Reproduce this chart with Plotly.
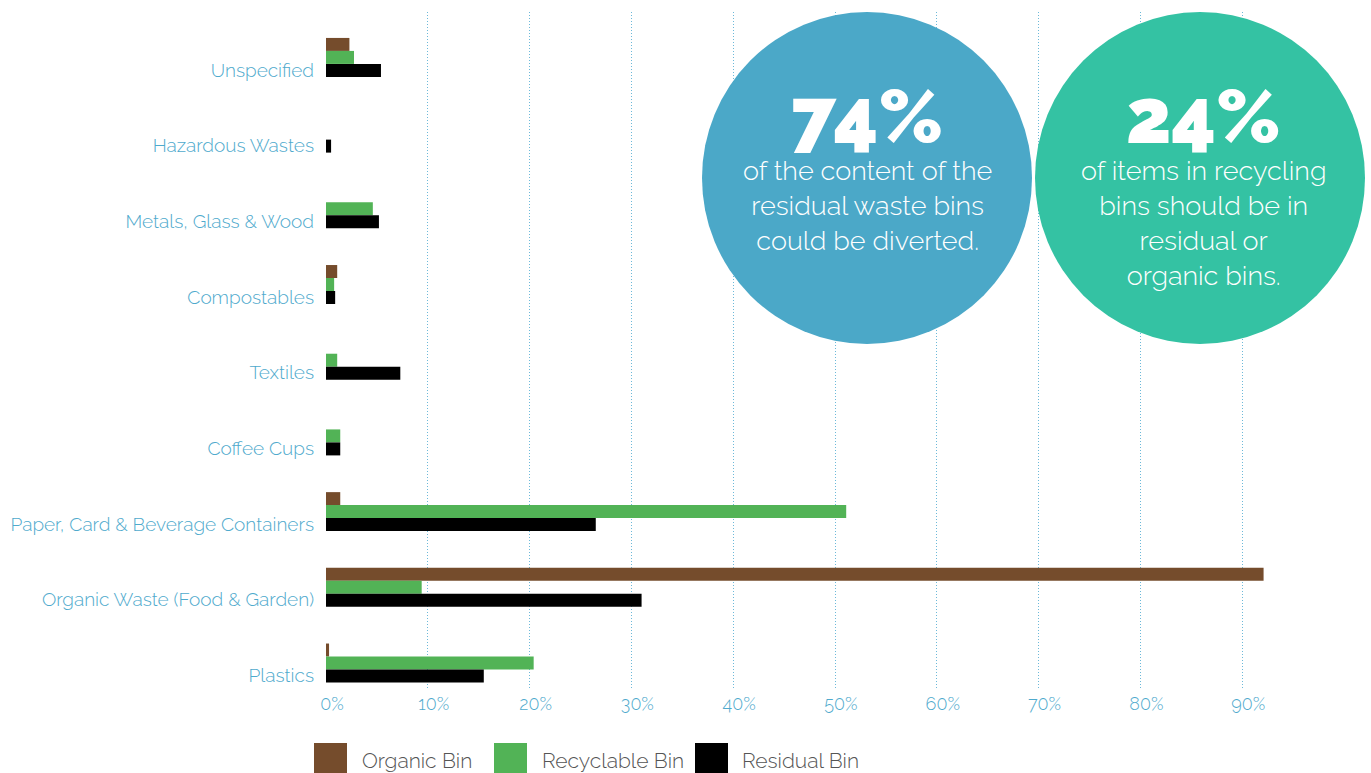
import plotly.graph_objects as go

categories = ["Unspecified", "Hazardous Wastes", "Metals, Glass & Wood", "Compostables",
              "Textiles", "Coffee Cups", "Paper, Card & Beverage Containers",
              "Organic Waste (Food & Garden)", "Plastics"]
organic_bin = [2.3, 0, 0, 1.1, 0, 0, 1.4, 92.1, 0.3]
recyclable_bin = [2.75, 0, 4.6, 0.8, 1.1, 1.4, 51.1, 9.4, 20.4]
residual_bin = [5.4, 0.5, 5.2, 0.9, 7.3, 1.4, 26.5, 31.0, 15.5]
series_names = ["Organic Bin", "Recyclable Bin", "Residual Bin"]
series_colors = ["#754c2c", "#52b356", "#000000"]
x_ticks = [0, 10, 20, 30, 40, 50, 60, 70, 80, 90]
x_tick_labels = [f"{v}%" for v in x_ticks]

FONT = "Raleway, Lato, 'Open Sans', sans-serif"
LABEL_BLUE = "#4faacd"

W, H = 1371, 773
L, R, T, B = 326, 6, 12, 85
PW, PH = W - L - R, H - T - B


def xp(px):
    return (px - L) / PW


def yp(py):
    return (H - B - py) / PH


idx = list(range(len(categories)))
fig = go.Figure()
for name, vals, col in zip(series_names, [organic_bin, recyclable_bin, residual_bin], series_colors):
    fig.add_trace(go.Bar(y=idx, x=vals, name=name, orientation="h",
                         marker=dict(color=col, line=dict(width=0)), showlegend=False))

label_shift = 0.165
fig.update_layout(
    width=W, height=H,
    margin=dict(l=L, r=R, t=T, b=B),
    paper_bgcolor="white", plot_bgcolor="white",
    barmode="group", bargap=0.485, bargroupgap=0,
    font=dict(family=FONT),
    xaxis=dict(range=[0, PW / 10.18], tickvals=x_ticks, ticktext=x_tick_labels,
               showgrid=True, gridcolor="#6cb9d9", griddash="1px,2px", gridwidth=1,
               zeroline=False, showline=False, ticks="",
               tickfont=dict(size=18, color=LABEL_BLUE, family=FONT, weight=300),
               ticklabelstandoff=3, ticklabelshift=6),
    yaxis=dict(range=[8.33, -0.6], tickvals=[i + label_shift for i in idx], ticktext=categories,
               showgrid=False, zeroline=False, showline=False, ticks="",
               tickfont=dict(size=19, color=LABEL_BLUE, family=FONT, weight=300),
               ticklabelstandoff=11),
)

# stat circles
circles = [
    (702, 1032, "#4ba8c8", "74%", "of the content of the<br>residual waste bins<br>could be diverted.", 867),
    (1035, 1365, "#34c2a3", "24%", "of items in recycling<br>bins should be in<br>residual or<br>organic bins.", 1203),
]
for x0, x1, col, big, small, cx in circles:
    fig.add_shape(type="circle", xref="paper", yref="paper", x0=xp(x0), x1=xp(x1),
                  y0=yp(344), y1=yp(12), fillcolor=col, line=dict(width=0), layer="above")
    fig.add_annotation(xref="paper", yref="paper", x=xp(cx), y=yp(117), text=big, showarrow=False,
                       xanchor="center", yanchor="middle",
                       font=dict(size=76, color="white", family=FONT, weight=900))
    fig.add_annotation(xref="paper", yref="paper", x=xp(cx), y=yp(153), text=small, showarrow=False,
                       xanchor="center", yanchor="top", align="center",
                       font=dict(size=27, color="white", family=FONT, weight=300))

# legend
legend_items = [(314, 360), (494, 540), (695, 740)]
for (sx, tx), name, col in zip(legend_items, series_names, series_colors):
    fig.add_shape(type="rect", xref="paper", yref="paper", x0=xp(sx), x1=xp(sx + 33),
                  y0=yp(773), y1=yp(743), fillcolor=col, line=dict(width=0))
    fig.add_annotation(xref="paper", yref="paper", x=xp(tx), y=yp(760), text=name, showarrow=False,
                       xanchor="left", yanchor="middle",
                       font=dict(size=21, color="#555555", family=FONT, weight=300))

fig.write_html("out.html", config={"displayModeBar": False},
               post_script="document.body.style.margin='0';document.body.style.padding='0';")
